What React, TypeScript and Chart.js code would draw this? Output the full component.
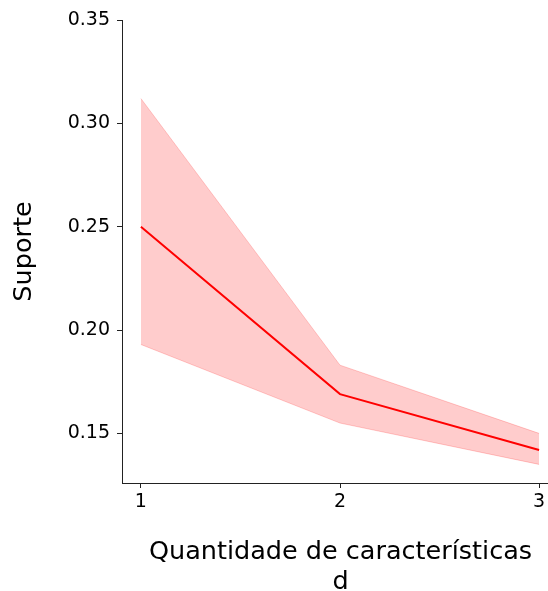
import React, { useEffect, useRef } from "react";
import { Chart, registerables } from "chart.js";

Chart.register(...registerables);

const xValues = [1, 2, 3];
const meanValues = [0.25, 0.169, 0.142];
const upperValues = [0.312, 0.183, 0.15];
const lowerValues = [0.193, 0.155, 0.135];
const xTicks = [1, 2, 3];
const yTicks = [0.15, 0.2, 0.25, 0.3, 0.35];
const xTitle = ["Quantidade de características", "d"];
const yTitle = "Suporte";

const FONT = "'DejaVu Sans', sans-serif";

export default function App() {
  const ref = useRef<HTMLCanvasElement | null>(null);

  useEffect(() => {
    if (!ref.current) return;
    const pts = (vals: number[]) => xValues.map((x, i) => ({ x, y: vals[i] }));
    const chart = new Chart(ref.current, {
      type: "line",
      data: {
        datasets: [
          {
            data: pts(meanValues),
            borderColor: "rgb(255,0,0)",
            borderWidth: 2,
            pointRadius: 0,
            fill: false,
            tension: 0,
          },
          {
            data: pts(upperValues),
            borderColor: "rgba(255,0,0,0.2)",
            backgroundColor: "rgba(255,0,0,0.2)",
            borderWidth: 1,
            pointRadius: 0,
            fill: "+1",
            tension: 0,
          },
          {
            data: pts(lowerValues),
            borderColor: "rgba(255,0,0,0.2)",
            borderWidth: 1,
            pointRadius: 0,
            fill: false,
            tension: 0,
          },
        ],
      },
      options: {
        animation: false,
        responsive: false,
        devicePixelRatio: 1,
        layout: { padding: { top: 20, right: 21, bottom: 0, left: 0 } },
        plugins: {
          legend: { display: false },
          tooltip: { enabled: false },
        },
        scales: {
          x: {
            type: "linear",
            min: 0.905,
            max: 3.1,
            afterBuildTicks: (s: any) => {
              s.ticks = xTicks.map((v) => ({ value: v }));
            },
            afterFit: (s: any) => {
              s.height = 117;
            },
            ticks: {
              color: "#000",
              font: { family: FONT, size: 19 },
              padding: 3,
              maxRotation: 0,
              callback: (v: any) => String(v),
            },
            grid: {
              drawOnChartArea: false,
              drawTicks: true,
              tickLength: 5,
              color: "#222",
            },
            border: { display: true, color: "#222", width: 1 },
            title: {
              display: true,
              text: xTitle,
              color: "#000",
              font: { family: FONT, size: 25.5, lineHeight: 1.2 },
              padding: { top: 0, bottom: 2 },
            },
          },
          y: {
            type: "linear",
            min: 0.126,
            max: 0.35,
            afterBuildTicks: (s: any) => {
              s.ticks = yTicks.map((v) => ({ value: v }));
            },
            afterFit: (s: any) => {
              s.width = 122;
            },
            ticks: {
              color: "#000",
              font: { family: FONT, size: 19 },
              padding: 7,
              callback: (v: any) => Number(v).toFixed(2),
            },
            grid: {
              drawOnChartArea: false,
              drawTicks: true,
              tickLength: 5,
              color: "#222",
            },
            border: { display: true, color: "#222", width: 1 },
            title: {
              display: true,
              text: yTitle,
              color: "#000",
              font: { family: FONT, size: 25.5, lineHeight: 1.2 },
              padding: { top: 9, bottom: 0 },
            },
          },
        },
      },
    } as any);
    return () => chart.destroy();
  }, []);

  return (
    <div
      style={{
        position: "fixed",
        left: 0,
        top: 0,
        width: 548,
        height: 591,
        overflow: "hidden",
        background: "#fff",
      }}
    >
      <canvas ref={ref} width={580} height={600} style={{ width: 580, height: 600, display: "block" }} />
    </div>
  );
}
